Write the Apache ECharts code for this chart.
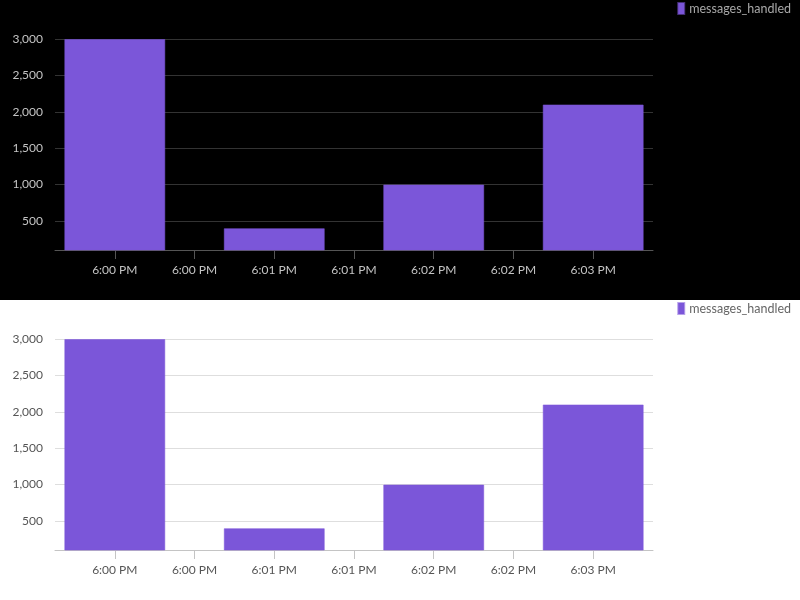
<!DOCTYPE html>
<html>
<head>
<meta charset="utf-8">
<script src="https://cdn.jsdelivr.net/npm/echarts@6/dist/echarts.min.js"></script>
<style>
    html,body{margin:0;padding:0;}
    .chart{width:800px;height:300px;}
    #chartDark{background:#000;}
    #chartLight{background:#fff;}
</style>
</head>
<body>
<div id="chartDark" class="chart"></div>
<div id="chartLight" class="chart"></div>
<script>
// tick labels along the time axis (every 30s)
var tickLabels  = ['6:00 PM','6:00 PM','6:01 PM','6:01 PM','6:02 PM','6:02 PM','6:03 PM'];
// bars sit on the whole minutes (tick index)
var barSlots    = [0, 2, 4, 6];
var msgValues   = [3000, 400, 1000, 2100];
var seriesName  = 'messages_handled';

function buildOption(theme){
    var seriesData = [];
    barSlots.forEach((slot, i) => {
        seriesData.push([slot, msgValues[i]]);
    });
    var tickIdx = tickLabels.map((t, i) => i);
    return {
        animation: false,
        textStyle: { fontFamily: 'Lato' },
        grid: { left: 55, right: 147, top: 39, bottom: 50 },
        legend: {
            right: 0,
            top: 0,
            padding: [2, 9, 0, 0],
            icon: 'rect',
            itemWidth: 6,
            itemHeight: 11,
            textStyle: { color: theme.legend, fontSize: 12.5, fontFamily: 'Lato' },
            data: [seriesName]
        },
        xAxis: {
            type: 'value',
            min: -0.75,
            max: 6.75,
            splitLine: { show: false },
            axisLine: { lineStyle: { color: theme.axis, width: 1 } },
            axisTick: {
                show: true,
                length: 9,
                customValues: tickIdx,
                lineStyle: { color: theme.axis }
            },
            axisLabel: {
                customValues: tickIdx,
                margin: 14,
                color: theme.text,
                fontSize: 12,
                fontFamily: 'Lato',
                formatter: v => tickLabels[Math.round(v)]
            }
        },
        yAxis: {
            type: 'value',
            min: 100,
            max: 3000,
            axisLine: { show: false },
            axisTick: { show: false },
            splitLine: { lineStyle: { color: theme.grid, width: 1 } },
            axisLabel: {
                showMinLabel: false,
                margin: 12,
                color: theme.text,
                fontSize: 12,
                fontFamily: 'Lato',
                formatter: v => v.toLocaleString('en-US')
            }
        },
        series: [{
            name: seriesName,
            type: 'bar',
            barWidth: 101,
            itemStyle: {
                color: '#7b56d9',
                borderColor: 'rgba(123,86,217,0.55)',
                borderWidth: 1
            },
            data: seriesData
        }]
    };
}

var darkChart = echarts.init(document.getElementById('chartDark'));
darkChart.setOption(buildOption({ text: '#c4c4c4', legend: '#a8a8a8', axis: '#555', grid: '#333' }));

var lightChart = echarts.init(document.getElementById('chartLight'));
lightChart.setOption(buildOption({ text: '#555', legend: '#666', axis: '#c4c4c4', grid: '#dedede' }));
</script>
</body>
</html>
